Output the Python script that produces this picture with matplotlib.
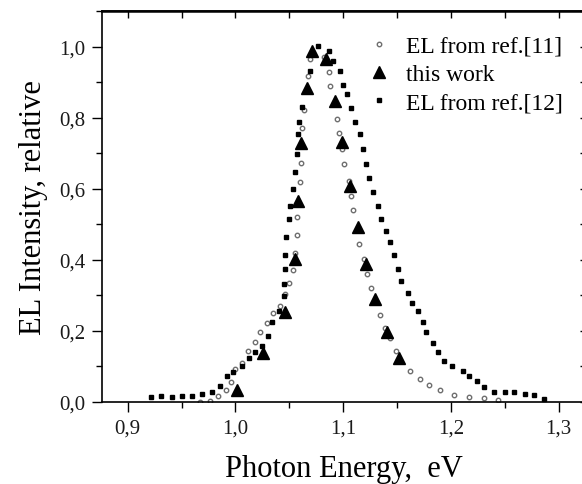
import matplotlib
matplotlib.use('Agg')
import matplotlib.pyplot as plt
from matplotlib.ticker import MultipleLocator, FuncFormatter

plt.rcParams['font.family'] = ['Liberation Serif', 'DejaVu Serif']

# EL from ref.[11] (grey open points)
ref11_x = [0.967, 0.976, 0.984, 0.991, 0.996, 1.000, 1.006, 1.012, 1.018, 1.023,
           1.029, 1.035, 1.041, 1.046, 1.050, 1.053, 1.055, 1.057, 1.057, 1.060,
           1.061, 1.062, 1.064, 1.067, 1.069, 1.082, 1.087, 1.088, 1.094, 1.096,
           1.099, 1.101, 1.105, 1.107, 1.109, 1.115, 1.119, 1.122, 1.126, 1.134,
           1.139, 1.143, 1.149, 1.162, 1.171, 1.180, 1.190, 1.203, 1.217, 1.231,
           1.244]
ref11_y = [0.001, 0.004, 0.018, 0.035, 0.057, 0.093, 0.110, 0.144, 0.169, 0.198,
           0.223, 0.250, 0.271, 0.303, 0.336, 0.371, 0.418, 0.469, 0.521, 0.620,
           0.673, 0.771, 0.823, 0.917, 0.964, 0.972, 0.928, 0.890, 0.796, 0.757,
           0.713, 0.669, 0.623, 0.580, 0.541, 0.446, 0.402, 0.361, 0.320, 0.244,
           0.207, 0.179, 0.144, 0.088, 0.066, 0.048, 0.034, 0.021, 0.015, 0.010,
           0.007]

# this work (triangles)
work_x = [1.001, 1.026, 1.046, 1.055, 1.058, 1.061, 1.066, 1.071, 1.084, 1.092,
          1.099, 1.106, 1.114, 1.121, 1.130, 1.141, 1.152]
work_y = [0.035, 0.138, 0.254, 0.403, 0.566, 0.730, 0.884, 0.987, 0.964, 0.846,
          0.732, 0.608, 0.492, 0.388, 0.291, 0.198, 0.123]

# EL from ref.[12] (black squares)
ref12_x = [0.922, 0.931, 0.941, 0.950, 0.960, 0.969, 0.978, 0.986, 0.992, 0.998,
           1.006, 1.013, 1.018, 1.025, 1.030, 1.034, 1.040, 1.045, 1.045, 1.046,
           1.046, 1.047, 1.050, 1.051, 1.053, 1.055, 1.057, 1.058, 1.059, 1.062,
           1.069, 1.077, 1.087, 1.091, 1.097, 1.100, 1.104, 1.107, 1.111, 1.116,
           1.118, 1.121, 1.124, 1.128, 1.132, 1.135, 1.140, 1.143, 1.147, 1.151,
           1.154, 1.160, 1.164, 1.169, 1.174, 1.177, 1.183, 1.188, 1.194, 1.201,
           1.211, 1.217, 1.224, 1.231, 1.240, 1.250, 1.259, 1.269, 1.277, 1.286]
ref12_y = [0.015, 0.018, 0.015, 0.018, 0.018, 0.024, 0.029, 0.044, 0.072, 0.085,
           0.100, 0.124, 0.141, 0.158, 0.186, 0.224, 0.257, 0.297, 0.333, 0.374,
           0.413, 0.465, 0.516, 0.553, 0.600, 0.648, 0.697, 0.753, 0.789, 0.830,
           0.931, 1.002, 0.988, 0.961, 0.931, 0.893, 0.868, 0.827, 0.788, 0.753,
           0.711, 0.670, 0.631, 0.591, 0.553, 0.516, 0.481, 0.449, 0.413, 0.374,
           0.341, 0.307, 0.280, 0.257, 0.224, 0.198, 0.165, 0.142, 0.116, 0.100,
           0.086, 0.074, 0.060, 0.043, 0.029, 0.029, 0.029, 0.024, 0.020, 0.008]

fig = plt.figure(figsize=(5.82, 4.85), dpi=100)
ax = fig.add_axes([0.175, 0.169, 0.833, 0.806])

ax.plot(ref11_x, ref11_y, linestyle='none', marker='o', ms=3.2, mfc='white',
        mec='#6e6e6e', mew=1.0, label='EL from ref.[11]', zorder=2)
ax.plot(work_x, work_y, linestyle='none', marker='^', ms=8, color='black',
        label='this work', zorder=3)
ax.plot(ref12_x, ref12_y, linestyle='none', marker='s', ms=3.4, color='black',
        label='EL from ref.[12]', zorder=2)

ax.set_xlim(0.876, 1.326)
ax.set_ylim(0, 1.1)

comma = FuncFormatter(lambda v, p: f'{v:.1f}'.replace('.', ','))
ax.xaxis.set_major_locator(MultipleLocator(0.1))
ax.xaxis.set_minor_locator(MultipleLocator(0.05))
ax.yaxis.set_major_locator(MultipleLocator(0.2))
ax.yaxis.set_minor_locator(MultipleLocator(0.1))
ax.xaxis.set_major_formatter(comma)
ax.yaxis.set_major_formatter(comma)

ax.tick_params(which='both', direction='out', top=False, right=False,
               width=1.0, labelsize=15, pad=5, labelcolor='#1a1a1a')
ax.tick_params(which='major', length=7)
ax.tick_params(which='minor', length=4)

# top and right ticks point inwards
top = ax.secondary_xaxis('top')
top.xaxis.set_major_locator(MultipleLocator(0.1))
top.xaxis.set_minor_locator(MultipleLocator(0.05))
top.tick_params(which='both', direction='in', length=5, width=1.0, labeltop=False)
right = ax.secondary_yaxis('right')
right.yaxis.set_major_locator(MultipleLocator(0.2))
right.yaxis.set_minor_locator(MultipleLocator(0.1))
right.tick_params(which='both', direction='in', length=5, width=1.0, labelright=False)

for s in ax.spines.values():
    s.set_linewidth(1.2)
top.spines['top'].set_linewidth(1.8)

ax.set_xlabel('Photon Energy,  eV', fontsize=22, labelpad=12)
ax.set_ylabel('EL Intensity, relative', fontsize=22, labelpad=8)

ax.legend(loc='upper right', frameon=False, fontsize=17, handletextpad=0.6,
          borderaxespad=0.3, labelspacing=0.28, handlelength=1.1,
          bbox_to_anchor=(0.985, 0.98))

fig.savefig('out.png', dpi=100)
